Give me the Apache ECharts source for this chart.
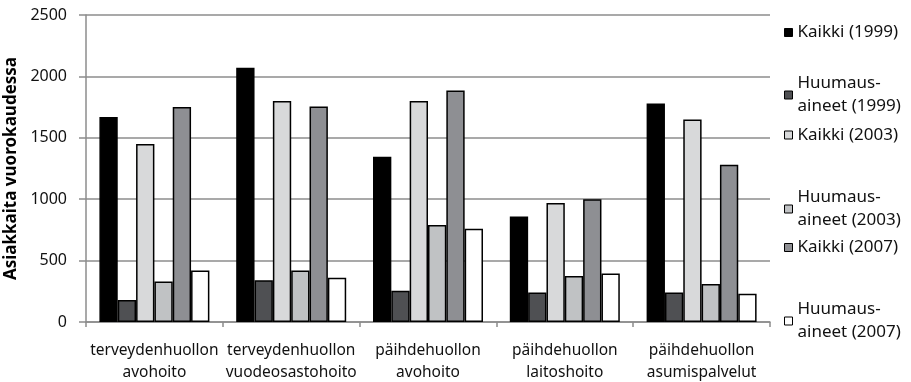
<!DOCTYPE html>
<html>
<head>
<meta charset="utf-8">
<script src="https://cdn.jsdelivr.net/npm/echarts@6/dist/echarts.min.js"></script>
<style>
  html, body { margin: 0; padding: 0; background: #fff; }
  #chart { width: 911px; height: 382px; }
</style>
</head>
<body>
<div id="chart"></div>
<script>
// Palveluiden asiakkaat vuorokaudessa, palvelutyypeittäin
const categories = [
  'terveydenhuollon\navohoito',
  'terveydenhuollon\nvuodeosastohoito',
  'päihdehuollon\navohoito',
  'päihdehuollon\nlaitoshoito',
  'päihdehuollon\nasumispalvelut'
];
const seriesNames = [
  'Kaikki (1999)',
  'Huumaus-\naineet (1999)',
  'Kaikki (2003)',
  'Huumaus-\naineet (2003)',
  'Kaikki (2007)',
  'Huumaus-\naineet (2007)'
];
const kaikki1999  = [1670, 2070, 1345, 860, 1780];
const huumaus1999 = [180, 340, 255, 240, 240];
const kaikki2003  = [1450, 1800, 1800, 970, 1650];
const huumaus2003 = [330, 420, 790, 375, 310];
const kaikki2007  = [1750, 1755, 1885, 1000, 1280];
const huumaus2007 = [420, 360, 760, 395, 230];
const yTicks = [0, 500, 1000, 1500, 2000, 2500];

const values = [kaikki1999, huumaus1999, kaikki2003, huumaus2003, kaikki2007, huumaus2007];
const fills = ['#000000', '#4f5053', '#d8d9da', '#c0c2c4', '#8e8f93', '#ffffff'];
const FONT = '"Noto Sans", "DejaVu Sans", sans-serif';
const GREY = '#8c8c8c';
const TEXT = '#111111';

// legend marker centres (px from top) – one legend block per series
const legendCentres = [32.5, 95, 135, 209, 247.5, 321];
const LH = 23;

const legends = seriesNames.map((name, i) => {
  const twoLine = name.indexOf('\n') >= 0;
  return {
    show: true,
    orient: 'vertical',
    left: 784,
    top: legendCentres[i] - (twoLine ? LH * 1.5 : LH / 2),
    padding: 0,
    icon: 'rect',
    itemWidth: 8,
    itemHeight: 8,
    selectedMode: false,
    itemStyle: { borderWidth: 1, borderColor: '#000' },
    data: [name],
    textStyle: {
      fontFamily: FONT,
      fontSize: 17,
      color: TEXT,
      lineHeight: LH,
      padding: twoLine ? [LH, 0, 0, 0] : 0
    }
  };
});

const chart = echarts.init(document.getElementById('chart'), null, { renderer: 'canvas' });
chart.setOption({
  animation: false,
  backgroundColor: '#ffffff',
  textStyle: { fontFamily: FONT },
  grid: { left: 86, right: 141, top: 15, bottom: 60, containLabel: false, outerBoundsMode: 'none' },
  legend: legends,
  xAxis: {
    type: 'category',
    data: categories,
    boundaryGap: true,
    axisLine: { show: true, lineStyle: { color: GREY, width: 1.5 } },
    axisTick: { show: true, length: 5, alignWithLabel: false, lineStyle: { color: GREY, width: 1.5 } },
    axisLabel: {
      interval: 0,
      margin: 18,
      fontFamily: FONT,
      fontSize: 15.5,
      lineHeight: 22,
      color: TEXT
    },
    splitLine: { show: false }
  },
  yAxis: {
    type: 'value',
    min: yTicks[0],
    max: yTicks[yTicks.length - 1],
    interval: yTicks[1] - yTicks[0],
    name: 'Asiakkaita vuorokaudessa',
    nameLocation: 'middle',
    nameGap: 57,
    nameRotate: 90,
    nameTextStyle: { fontFamily: FONT, fontSize: 17, fontWeight: 'bold', color: '#000' },
    axisLine: { show: true, lineStyle: { color: GREY, width: 1.5 } },
    axisTick: { show: true, length: 7, lineStyle: { color: GREY, width: 1.5 } },
    axisLabel: {
      margin: 19,
      fontFamily: FONT,
      fontSize: 16,
      color: TEXT,
      formatter: (v) => String(v)
    },
    splitLine: { show: true, lineStyle: { color: GREY, width: 1.5 } }
  },
  series: seriesNames.map((name, i) => ({
    name: name,
    type: 'bar',
    data: values[i],
    barGap: 0,
    barCategoryGap: '19.6%',
    itemStyle: { color: fills[i], borderColor: '#000000', borderWidth: 1.5 },
    emphasis: { disabled: true }
  }))
});
</script>
</body>
</html>
